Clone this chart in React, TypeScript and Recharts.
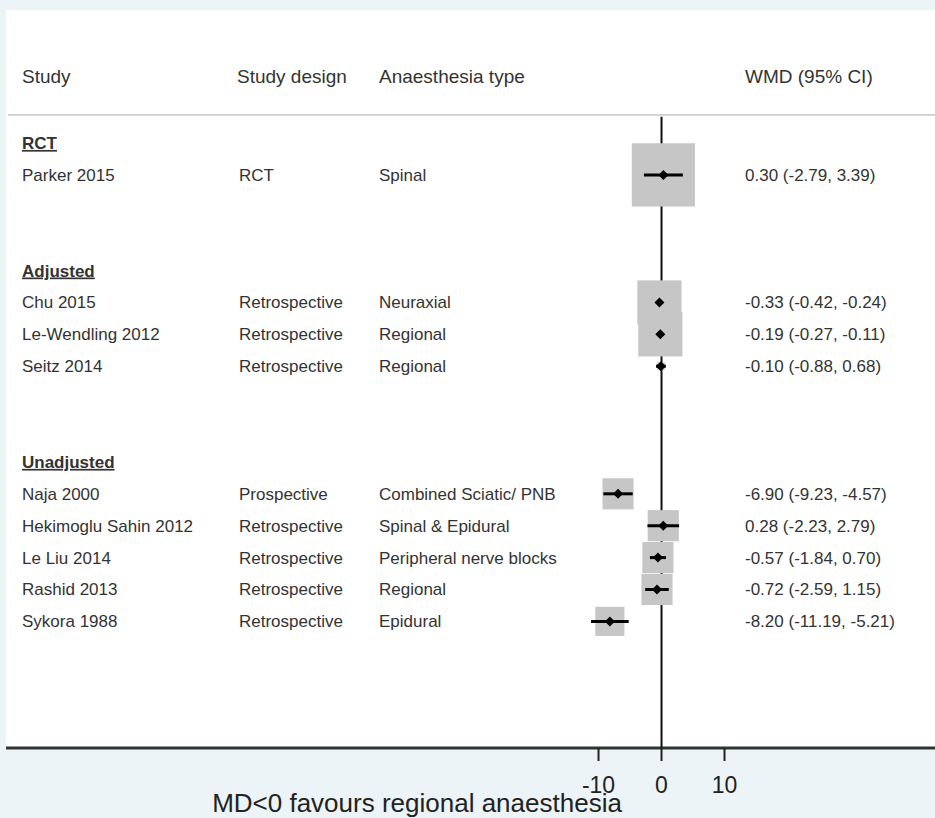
import React from "react";
import {
  ComposedChart,
  Scatter,
  XAxis,
  YAxis,
  CartesianGrid,
  Customized,
} from "recharts";

const FONT = "'Liberation Sans', Arial, sans-serif";

// subgroup headings, in plot order
const groups = ["RCT", "Adjusted", "Unadjusted"];

const studies = [
  "Parker 2015",
  "Chu 2015",
  "Le-Wendling 2012",
  "Seitz 2014",
  "Naja 2000",
  "Hekimoglu Sahin 2012",
  "Le Liu 2014",
  "Rashid 2013",
  "Sykora 1988",
];
const studyGroup = [0, 1, 1, 1, 2, 2, 2, 2, 2];
const designs = [
  "RCT",
  "Retrospective",
  "Retrospective",
  "Retrospective",
  "Prospective",
  "Retrospective",
  "Retrospective",
  "Retrospective",
  "Retrospective",
];
const anaesthesia = [
  "Spinal",
  "Neuraxial",
  "Regional",
  "Regional",
  "Combined Sciatic/ PNB",
  "Spinal & Epidural",
  "Peripheral nerve blocks",
  "Regional",
  "Epidural",
];
const wmd = [0.3, -0.33, -0.19, -0.1, -6.9, 0.28, -0.57, -0.72, -8.2];
const lower = [-2.79, -0.42, -0.27, -0.88, -9.23, -2.23, -1.84, -2.59, -11.19];
const upper = [3.39, -0.24, -0.11, 0.68, -4.57, 2.79, 0.7, 1.15, -5.21];
// relative study weights (box area)
const weights = [40, 19.5, 19.5, 0.6, 9.7, 9.7, 9.7, 9.7, 8.5];

const xTicks = [-10, 0, 10];

// build row slots: heading, its studies, then two blank rows
type Row = { kind: "group" | "study"; idx: number; x: number; y: number };
const rows: Row[] = [];
let slot = 0;
groups.forEach((g, gi) => {
  if (gi > 0) slot += 2;
  rows.push({ kind: "group", idx: gi, x: 0, y: slot });
  slot++;
  studies.forEach((s, i) => {
    if (studyGroup[i] === gi) {
      rows.push({ kind: "study", idx: i, x: 0, y: slot });
      slot++;
    }
  });
});

const studyRows = rows
  .filter((r) => r.kind === "study")
  .map((r) => ({
    i: r.idx,
    x: wmd[r.idx],
    y: r.y,
    w: weights[r.idx],
  }));

const X_DOMAIN: [number, number] = [-104.05, 43.41];
const Y_DOMAIN: [number, number] = [-4.17, 18.97];

// line of no effect, from just under the header to the axis
const zeroLine = [
  { x: 0, y: -0.82 },
  { x: 0, y: Y_DOMAIN[1] },
];

const fmt = (v: number) => v.toFixed(2);

const TextRow = (props: any) => {
  const { cy, payload } = props;
  if (payload.kind === "group") {
    return (
      <text
        x={22}
        y={cy}
        dy="0.35em"
        fontSize={17}
        fontWeight="bold"
        fill="#333"
        fontFamily={FONT}
        style={{ textDecoration: "underline" }}
      >
        {groups[payload.idx]}
      </text>
    );
  }
  const i = payload.idx;
  return (
    <g fontSize={17} fill="#333" fontFamily={FONT}>
      <text x={22} y={cy} dy="0.35em">{studies[i]}</text>
      <text x={239} y={cy} dy="0.35em">{designs[i]}</text>
      <text x={379} y={cy} dy="0.35em">{anaesthesia[i]}</text>
      <text x={745} y={cy} dy="0.35em">
        {`${fmt(wmd[i])} (${fmt(lower[i])}, ${fmt(upper[i])})`}
      </text>
    </g>
  );
};

const WeightBox = (props: any) => {
  const { cx, cy, payload } = props;
  const s = Math.sqrt(payload.w) * 10;
  return <rect x={cx - s / 2} y={cy - s / 2} width={s} height={s} fill="#c6c6c6" />;
};

const Diamond = (props: any) => {
  const { cx, cy } = props;
  const r = 5;
  return (
    <polygon
      points={`${cx},${cy - r} ${cx + r},${cy} ${cx},${cy + r} ${cx - r},${cy}`}
      fill="#000"
    />
  );
};

const Empty = () => <g />;

const Headers = () => (
  <g fontFamily={FONT} fill="#333">
    <line x1={8} x2={935} y1={115} y2={115} stroke="#d4d4d4" strokeWidth={2} />
    <g fontSize={19}>
      <text x={22} y={83}>Study</text>
      <text x={237} y={83}>Study design</text>
      <text x={379} y={83}>Anaesthesia type</text>
      <text x={745} y={83}>WMD (95% CI)</text>
    </g>
    <text x={417} y={812} fontSize={26} textAnchor="middle" fill="#222">
      MD&lt;0 favours regional anaesthesia
    </text>
  </g>
);

export default function App() {
  return (
    <div
      style={{
        position: "absolute",
        left: 0,
        top: 0,
        width: 935,
        height: 818,
        background: "#edf4f7",
      }}
    >
      <ComposedChart
        width={935}
        height={818}
        margin={{ top: 10, right: 0, bottom: 0, left: 6 }}
      >
        <CartesianGrid fill="#ffffff" horizontal={false} vertical={false} />
        <XAxis
          dataKey="x"
          type="number"
          domain={X_DOMAIN}
          allowDataOverflow
          ticks={xTicks}
          height={70}
          tickSize={13}
          tickMargin={16}
          axisLine={{ stroke: "#333", strokeWidth: 3 }}
          tickLine={{ stroke: "#222", strokeWidth: 2 }}
          tick={{ fontSize: 23, fill: "#222", fontFamily: FONT }}
        />
        <YAxis
          dataKey="y"
          type="number"
          domain={Y_DOMAIN}
          allowDataOverflow
          reversed
          hide
          width={0}
        />
        <Scatter
          data={zeroLine}
          line={{ stroke: "#111", strokeWidth: 2 }}
          shape={<Empty />}
          isAnimationActive={false}
        />
        <Scatter data={studyRows} shape={<WeightBox />} isAnimationActive={false} />
        {studyRows.map((r) => (
          <Scatter
            key={`ci-${r.i}`}
            data={[
              { x: lower[r.i], y: r.y },
              { x: upper[r.i], y: r.y },
            ]}
            line={{ stroke: "#000", strokeWidth: 3 }}
            shape={<Empty />}
            isAnimationActive={false}
          />
        ))}
        <Scatter data={studyRows} shape={<Diamond />} isAnimationActive={false} />
        <Scatter data={rows} shape={<TextRow />} isAnimationActive={false} />
        <Customized component={<Headers />} />
      </ComposedChart>
    </div>
  );
}
